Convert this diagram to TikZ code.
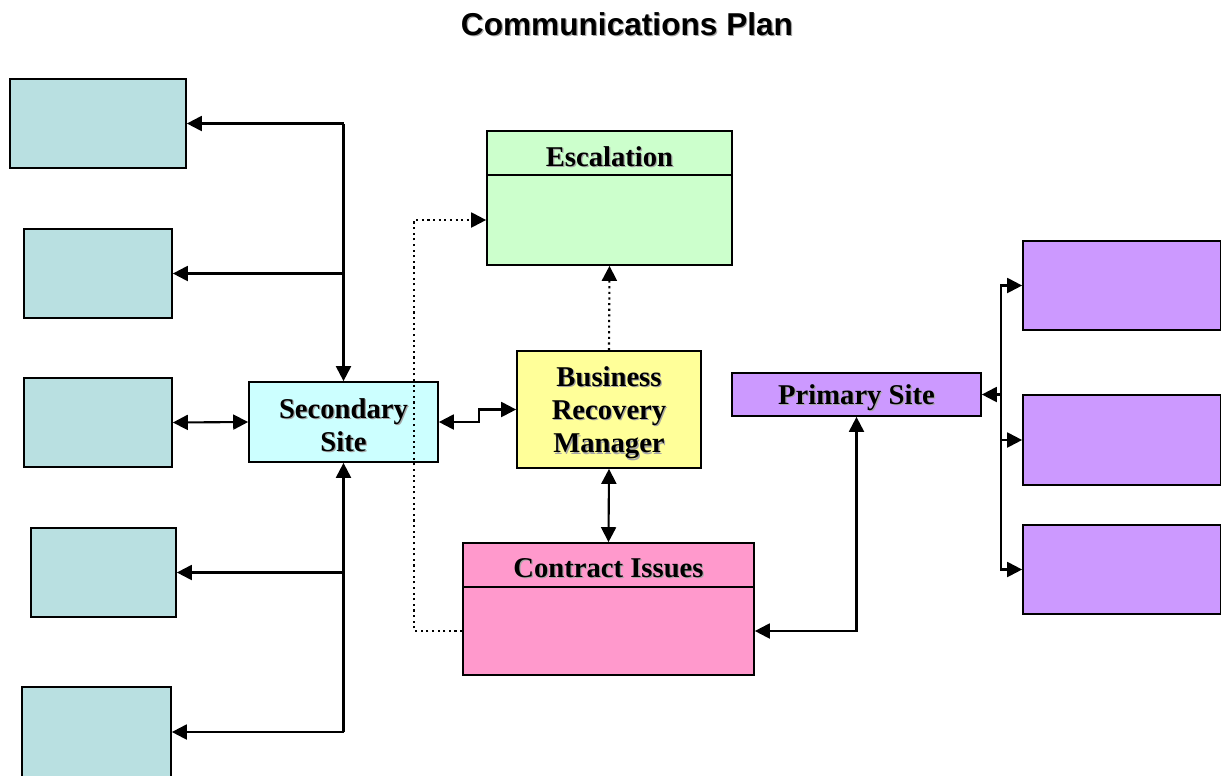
\documentclass[tikz,border=0pt]{standalone}
\usepackage{fontspec}
\setmainfont{Liberation Serif}
\newfontfamily\titlefont{Liberation Sans}
\usepackage{tikz}
\usetikzlibrary{arrows.meta, positioning}
\definecolor{sidegrey}{RGB}{185,224,225}
\definecolor{seccyan}{RGB}{204,255,255}
\definecolor{escgreen}{RGB}{204,255,204}
\definecolor{brmyellow}{RGB}{255,255,153}
\definecolor{conpink}{RGB}{255,153,204}
\definecolor{pripurple}{RGB}{204,153,255}
\newcommand{\shd}[1]{\makebox[0pt][l]{\hspace{0.7pt}\raisebox{-0.7pt}{\textcolor{black!35}{#1}}}#1}
\newcommand{\shl}[1]{\raisebox{-2.2pt}[\height][\depth]{\shd{#1}}}
\tikzset{box/.style={draw=black, line width=1pt, inner sep=0pt},
  label/.style={font=\fontsize{16.3}{19}\selectfont\bfseries, align=center},
  arrow/.style={line width=1.2pt, {Triangle[length=8.5pt,width=8.5pt]}-},
  darrow/.style={line width=1.2pt, {Triangle[length=8.5pt,width=8.5pt]}-{Triangle[length=8.5pt,width=8.5pt]}},
  dotarrow/.style={line width=1.2pt, dotted, -{Triangle[length=8.5pt,width=8.5pt]}}}

\begin{document}
\begin{tikzpicture}[x=0.02cm, y=-0.02cm]
    \useasboundingbox (0,0) rectangle (1221,775);
    \node[font=\titlefont\fontsize{18}{22}\selectfont\bfseries] (title) at (627,25) {\shd{Communications Plan}};
    % left column
    \node[box, fill=sidegrey, minimum width=3.52cm, minimum height=1.78cm] (l1) at (98,123.5) {};
    \node[box, fill=sidegrey, minimum width=2.96cm, minimum height=1.78cm] (l2) at (98,273.5) {};
    \node[box, fill=sidegrey, minimum width=2.96cm, minimum height=1.78cm] (l3) at (98,422.5) {};
    \node[box, fill=sidegrey, minimum width=2.90cm, minimum height=1.78cm] (l4) at (103.5,572.5) {};
    \node[box, fill=sidegrey, minimum width=2.98cm, minimum height=1.80cm] (l5) at (96.5,732) {};
    \node[box, fill=seccyan, label, minimum width=3.78cm, minimum height=1.6cm] (sec) at (343.5,422) {\shl{Secondary}\\\shl{Site}};
    % middle
    \node[box, fill=escgreen, label, minimum width=4.9cm, minimum height=0.88cm] (esc) at (609.5,153) {\shl{Escalation}};
    \node[box, fill=escgreen, minimum width=4.9cm, minimum height=1.8cm] (escbody) at (609.5,220) {};
    \node[box, fill=brmyellow, label, minimum width=3.68cm, minimum height=2.34cm] (brm) at (609,409.5) {\shl{Business}\\\shl{Recovery}\\\shl{Manager}};
    \node[box, fill=conpink, label, minimum width=5.82cm, minimum height=0.88cm] (con) at (608.5,565) {\shl{Contract Issues}};
    \node[box, fill=conpink, minimum width=5.82cm, minimum height=1.76cm] (conbody) at (608.5,631) {};
    % right
    \node[box, fill=pripurple, label, minimum width=4.98cm, minimum height=0.86cm] (pri) at (856.5,394.5) {\shl{Primary Site}};
    \node[box, fill=pripurple, minimum width=3.96cm, minimum height=1.78cm] (r1) at (1122,285.5) {};
    \node[box, fill=pripurple, minimum width=3.96cm, minimum height=1.80cm] (r2) at (1122,440) {};
    \node[box, fill=pripurple, minimum width=3.96cm, minimum height=1.78cm] (r3) at (1122,569.5) {};

    % secondary site links
    \coordinate (stop) at (sec.north |- l1.east);
    \coordinate (sbot) at (sec.south |- l5.east);
    \draw[arrow] (l1.east) -- (stop);
    \draw[arrow] (sec.north) -- (stop);
    \draw[arrow] (l2.east) -- (sec.north |- l2.east);
    \draw[darrow] (l3.east) -- (sec.west);
    \draw[arrow] (sec.south) -- (sbot);
    \draw[arrow] (l5.east) -- (sbot);
    \draw[arrow] (l4.east) -- (sec.south |- l4.east);
    \draw[darrow] (sec.east) -- ++(40,0) |- (brm.west);
    % escalation and contract
    \draw[dotarrow] (brm.north) -- (escbody.south);
    \draw[dotarrow] (conbody.west) -- ++(-48,0) |- (escbody.west);
    \draw[darrow] (brm.south) -- (con.north);
    \draw[darrow] (conbody.east) -| (pri.south);
    % primary site links
    \coordinate (pj) at (1001,394.5);
    \draw[arrow] (pri.east) -- (pj);
    \draw[arrow] (r1.west) -| (pj);
    \draw[arrow] (r2.west) -| (pj);
    \draw[arrow] (r3.west) -| (pj);
\end{tikzpicture}
\end{document}
